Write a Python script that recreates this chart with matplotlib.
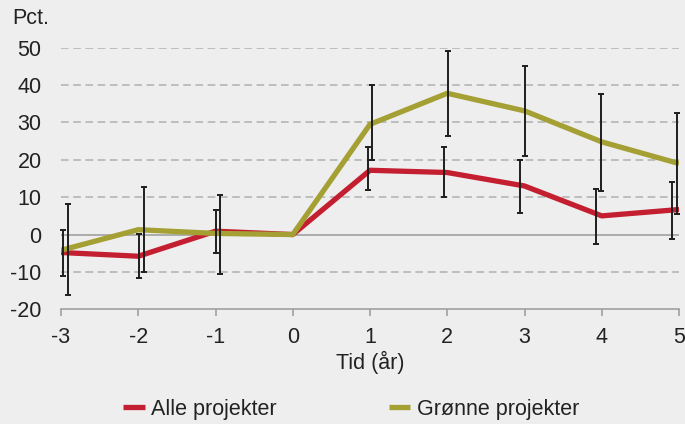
import numpy as np
import matplotlib
matplotlib.use('Agg')
import matplotlib.pyplot as plt

plt.rcParams['font.family'] = ['Liberation Sans', 'DejaVu Sans']
plt.rcParams['axes.unicode_minus'] = False

# data
tid = [-3, -2, -1, 0, 1, 2, 3, 4, 5]
alle = [-4.8, -5.8, 0.9, 0, 17.2, 16.6, 13.0, 5.0, 6.7]
alle_lo = [-11.2, -11.7, -4.9, np.nan, 11.9, 10.0, 5.9, -2.4, -1.1]
alle_hi = [1.3, 0.1, 6.7, np.nan, 23.5, 23.3, 19.9, 12.2, 14.1]
groenne = [-4.2, 1.3, 0.3, 0, 29.5, 37.8, 33.1, 24.8, 19.0]
groenne_lo = [-16.2, -10.1, -10.6, np.nan, 20.0, 26.3, 20.9, 11.6, 5.4]
groenne_hi = [8.1, 12.6, 10.7, np.nan, 40.0, 49.1, 45.1, 37.6, 32.4]
yticks = [-20, -10, 0, 10, 20, 30, 40, 50]

bg = '#eeeeee'
red = '#c41f30'
olive = '#a5a034'
txt = '#222222'

fig = plt.figure(figsize=(6.85, 4.24), dpi=100, facecolor=bg)
ax = fig.add_axes([61/685, 1-309.3/424, 618/685, 261.6/424])
ax.set_facecolor(bg)

x = np.array(tid, dtype=float)
ax.set_xlim(-3, 5)
ax.set_ylim(-20, 50)

# grid
for v in yticks[1:]:
    if v == 0:
        ax.axhline(v, color='#9a9a9a', lw=1.1, zorder=1)
    else:
        ax.axhline(v, color='#b0b0b0', lw=1.1, ls=(0, (5, 3)), zorder=1)

ax.plot(x, alle, color=red, lw=3.8, solid_capstyle='butt', zorder=3, label='Alle projekter')
ax.plot(x, groenne, color=olive, lw=3.8, solid_capstyle='butt', zorder=3, label='Grønne projekter')

def bars(xs, mid, lo, hi):
    mid = np.array(mid); lo = np.array(lo); hi = np.array(hi)
    err = np.vstack([mid - lo, hi - mid])
    ax.errorbar(xs, mid, yerr=err, fmt='none', ecolor='#1e1e1e', elinewidth=1.4,
                capsize=2.0, capthick=1.4, zorder=4, clip_on=False)

bars(x*0.985 - 0.015, alle, alle_lo, alle_hi)
bars(x*0.985 + 0.045, groenne, groenne_lo, groenne_hi)

for s in ['left', 'right', 'top']:
    ax.spines[s].set_visible(False)
ax.spines['bottom'].set_color('#9a9a9a')
ax.spines['bottom'].set_linewidth(1.1)

ax.set_xticks(tid)
ax.set_xticklabels([str(t) for t in tid])
ax.set_yticks(yticks)
ax.tick_params(axis='x', length=5, width=1.1, color='#9a9a9a', pad=8, labelsize=15.5, labelcolor=txt)
ax.tick_params(axis='y', length=0, pad=14, labelsize=15.5, labelcolor=txt)

ax.set_xlabel('Tid (år)', fontsize=15.5, color=txt, labelpad=2)
fig.text(12/685, 1-18/424, 'Pct.', fontsize=15.5, color=txt, ha='left', va='center')

fig.legend(loc='center', bbox_to_anchor=(351/685, 1-409/424), ncol=2, frameon=False,
           fontsize=15.5, handlelength=1.0, handletextpad=0.3, columnspacing=5.2,
           labelcolor=txt)

fig.savefig('out.png', dpi=100, facecolor=bg)
